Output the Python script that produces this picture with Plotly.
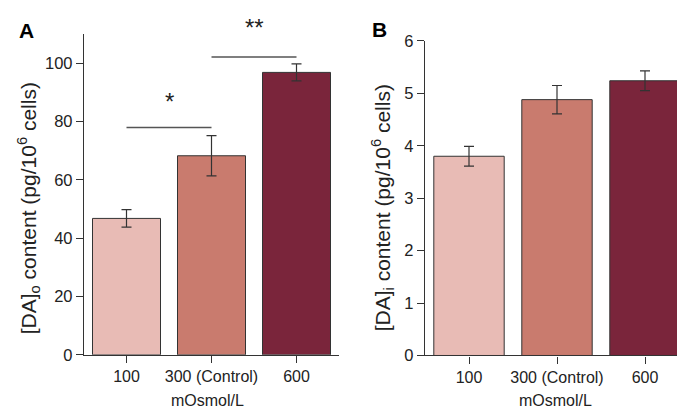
import plotly.graph_objects as go

categories = ["100", "300 (Control)", "600"]
da_o = [46.8, 68.3, 96.9]
da_o_err = [3.0, 6.9, 2.9]
da_i = [3.80, 4.88, 5.24]
da_i_err = [0.19, 0.27, 0.19]
bar_colors = ["#E8BBB5", "#C97B6E", "#7A253B"]
ticks_a = [0, 20, 40, 60, 80, 100]
ticks_b = [0, 1, 2, 3, 4, 5, 6]

W, H = 685, 411
def px(x):
    return x / W
def py(y):
    return (H - y) / H

FONT = "Liberation Sans, Arial, sans-serif"
AX = "#333333"

fig = go.Figure()
fig.add_trace(go.Bar(
    x=categories, y=da_o, xaxis="x", yaxis="y", width=0.8,
    marker=dict(color=bar_colors, line=dict(color=AX, width=1)),
    error_y=dict(type="data", array=da_o_err, color=AX, thickness=1.2, width=5),
    showlegend=False))
fig.add_trace(go.Bar(
    x=categories, y=da_i, xaxis="x2", yaxis="y2", width=0.8,
    marker=dict(color=bar_colors, line=dict(color=AX, width=1)),
    error_y=dict(type="data", array=da_i_err, color=AX, thickness=1.2, width=5),
    showlegend=False))

xcommon = dict(type="category", range=[-0.5, 2.5], showline=True, linecolor=AX, linewidth=1.3,
               ticks="outside", ticklen=7, tickwidth=1.3, tickcolor=AX, showgrid=False,
               tickfont=dict(family=FONT, size=16, color="#222"), zeroline=False)
ycommon = dict(showline=True, linecolor=AX, linewidth=1.3, ticks="outside", ticklen=7,
               tickwidth=1.3, tickcolor=AX, showgrid=False, zeroline=False,
               tickfont=dict(family=FONT, size=16.5, color="#222"))

fig.update_layout(
    width=W, height=H, margin=dict(l=0, r=0, t=0, b=0),
    paper_bgcolor="white", plot_bgcolor="white", bargap=0.2,
    xaxis=dict(domain=[px(76), px(331)], anchor="y", **xcommon),
    yaxis=dict(domain=[py(353.3), py(18)], anchor="x", range=[0, 110], tickvals=ticks_a, **ycommon),
    xaxis2=dict(domain=[px(417), px(681)], anchor="y2", **xcommon),
    yaxis2=dict(domain=[py(354), py(25)], anchor="x2", range=[0, 6], tickvals=ticks_b, **ycommon),
)

# significance lines
fig.add_shape(type="line", xref="x", yref="y", x0=0, x1=1, y0=78, y1=78,
              line=dict(color="#555", width=1.5))
fig.add_shape(type="line", xref="x", yref="y", x0=1, x1=2, y0=102.2, y1=102.2,
              line=dict(color="#555", width=1.5))

ann = []
ann.append(dict(xref="x", yref="y", x=0.5, y=86.8, text="*", showarrow=False,
                font=dict(family=FONT, size=24, color="#222"), yanchor="middle"))
ann.append(dict(xref="x", yref="paper", x=1.5, y=py(10.7), text="**", showarrow=False,
                font=dict(family=FONT, size=24, color="#222"), yanchor="middle"))
# panel letters
ann.append(dict(xref="paper", yref="paper", x=px(18), y=py(14), text="<b>A</b>", showarrow=False,
                font=dict(family=FONT, size=21, color="#000"), xanchor="center", yanchor="middle"))
ann.append(dict(xref="paper", yref="paper", x=px(371), y=py(13), text="<b>B</b>", showarrow=False,
                font=dict(family=FONT, size=21, color="#000"), xanchor="center", yanchor="middle"))
# y titles
ann.append(dict(xref="paper", yref="paper", x=px(20), y=py(200), textangle=-90, showarrow=False,
                text="[DA]<sub>o</sub> content (pg/10<sup>6</sup> cells)",
                font=dict(family=FONT, size=21, color="#222"), xanchor="center", yanchor="middle"))
ann.append(dict(xref="paper", yref="paper", x=px(374), y=py(199), textangle=-90, showarrow=False,
                text="[DA]<sub>i</sub> content (pg/10<sup>6</sup> cells)",
                font=dict(family=FONT, size=21, color="#222"), xanchor="center", yanchor="middle"))
# x titles
ann.append(dict(xref="paper", yref="paper", x=px(199), y=py(401), text="mOsmol/L", showarrow=False,
                font=dict(family=FONT, size=16, color="#222"), xanchor="center", yanchor="middle"))
ann.append(dict(xref="paper", yref="paper", x=px(547), y=py(401), text="mOsmol/L", showarrow=False,
                font=dict(family=FONT, size=16, color="#222"), xanchor="center", yanchor="middle"))
fig.update_layout(annotations=ann)

fig.write_html("out.html")
